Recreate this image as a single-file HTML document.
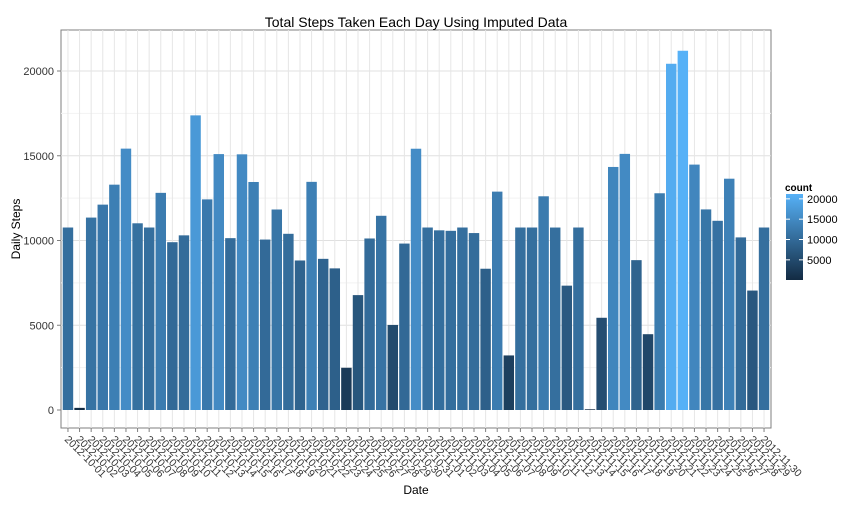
<!DOCTYPE html>
<html><head><meta charset="utf-8"><style>
body{margin:0;background:#fff;font-family:"Liberation Sans",sans-serif}
svg text{font-family:"Liberation Sans",sans-serif}
</style></head><body>
<svg id="c" width="864" height="504"></svg>
<script>
const dates=["2012-10-01","2012-10-02","2012-10-03","2012-10-04","2012-10-05","2012-10-06","2012-10-07","2012-10-08","2012-10-09","2012-10-10","2012-10-11","2012-10-12","2012-10-13","2012-10-14","2012-10-15","2012-10-16","2012-10-17","2012-10-18","2012-10-19","2012-10-20","2012-10-21","2012-10-22","2012-10-23","2012-10-24","2012-10-25","2012-10-26","2012-10-27","2012-10-28","2012-10-29","2012-10-30","2012-10-31","2012-11-01","2012-11-02","2012-11-03","2012-11-04","2012-11-05","2012-11-06","2012-11-07","2012-11-08","2012-11-09","2012-11-10","2012-11-11","2012-11-12","2012-11-13","2012-11-14","2012-11-15","2012-11-16","2012-11-17","2012-11-18","2012-11-19","2012-11-20","2012-11-21","2012-11-22","2012-11-23","2012-11-24","2012-11-25","2012-11-26","2012-11-27","2012-11-28","2012-11-29","2012-11-30"];
const steps=[10766,126,11352,12116,13294,15420,11015,10766,12811,9900,10304,17382,12426,15098,10139,15084,13452,10056,11829,10395,8821,13460,8918,8355,2492,6778,10119,11458,5018,9819,15414,10766,10600,10571,10766,10439,8334,12883,3219,10766,10766,12608,10765,7336,10766,41,5441,14339,15110,8841,4472,12787,20427,21194,14478,11834,11162,13646,10183,7047,10766];
const yTicks=[0,5000,10000,15000,20000];
const legendTicks=[5000,10000,15000,20000];
const NS="http://www.w3.org/2000/svg",svg=document.getElementById('c');
function mk(t,a,p){const e=document.createElementNS(NS,t);for(const k in a)e.setAttribute(k,a[k]);(p||svg).appendChild(e);return e;}
const L=61,R=771,T=30,B=428,y0=410,y20=71;
const y=v=>y0-(v/20000)*(y0-y20);
const band=(R-L)/(dates.length-1+1.2);
const x=i=>L+(i+0.6)*band;
const mn=Math.min(...steps),mx=Math.max(...steps);
const lo=[19,43,67],hi=[86,177,247];
const col=v=>{const t=(v-mn)/(mx-mn);return 'rgb('+lo.map((c,k)=>Math.round(c+(hi[k]-c)*t)).join(',')+')';};
const panel=mk('rect',{x:L,y:T,width:R-L,height:B-T,fill:'#fff',stroke:'#7f7f7f','stroke-width':1});

for(let v=2500;v<=22000;v+=2500){if(y(v)<T)break;mk('line',{x1:L,x2:R,y1:y(v),y2:y(v),stroke:v%5000?'#f2f2f2':'#e0e0e0'});}
dates.forEach((d,i)=>mk('line',{x1:x(i),x2:x(i),y1:T,y2:B,stroke:'#e6e6e6'}));
steps.forEach((v,i)=>{const r=mk('rect',{x:x(i)-band*0.45,y:y(v),width:band*0.9,height:y0-y(v),fill:col(v)});
});
yTicks.forEach(v=>{mk('line',{x1:L-4,x2:L,y1:y(v),y2:y(v),stroke:'#7f7f7f'});
const t=mk('text',{x:L-7,y:y(v)+4,'text-anchor':'end','font-size':11,fill:'#333'});t.textContent=v;
});
dates.forEach((d,i)=>{mk('line',{x1:x(i),x2:x(i),y1:B,y2:B+4,stroke:'#7f7f7f'});
const t=mk('text',{x:x(i)-4,y:B+12,'font-size':10.5,fill:'#333',transform:`rotate(45 ${x(i)-4} ${B+12})`});t.textContent=d;
});
let t=mk('text',{x:416,y:27,'text-anchor':'middle','font-size':14,fill:'#000'});t.textContent='Total Steps Taken Each Day Using Imputed Data';

t=mk('text',{x:416,y:494,'text-anchor':'middle','font-size':12,fill:'#000'});t.textContent='Date';

t=mk('text',{x:20,y:229,'text-anchor':'middle','font-size':12,fill:'#000',transform:'rotate(-90 20 229)'});t.textContent='Daily Steps';

const g=mk('g',{});
t=mk('text',{x:785,y:191,'font-size':10,'font-weight':'bold',fill:'#000'},g);t.textContent='count';
const lt=194,lb=280,lv=v=>lb-(v-mn)/(mx-mn)*(lb-lt);
const defs=mk('defs',{});const gr=mk('linearGradient',{id:'gr',x1:0,y1:1,x2:0,y2:0},defs);
mk('stop',{offset:0,'stop-color':col(mn)},gr);mk('stop',{offset:1,'stop-color':col(mx)},gr);
mk('rect',{x:786,y:lt,width:17,height:lb-lt,fill:'url(#gr)'},g);
legendTicks.forEach(v=>{mk('line',{x1:786,x2:790,y1:lv(v),y2:lv(v),stroke:'#fff'},g);mk('line',{x1:799,x2:803,y1:lv(v),y2:lv(v),stroke:'#fff'},g);
const tt=mk('text',{x:807,y:lv(v)+4,'font-size':11,fill:'#000'},g);tt.textContent=v;});
</script>
</body></html>
